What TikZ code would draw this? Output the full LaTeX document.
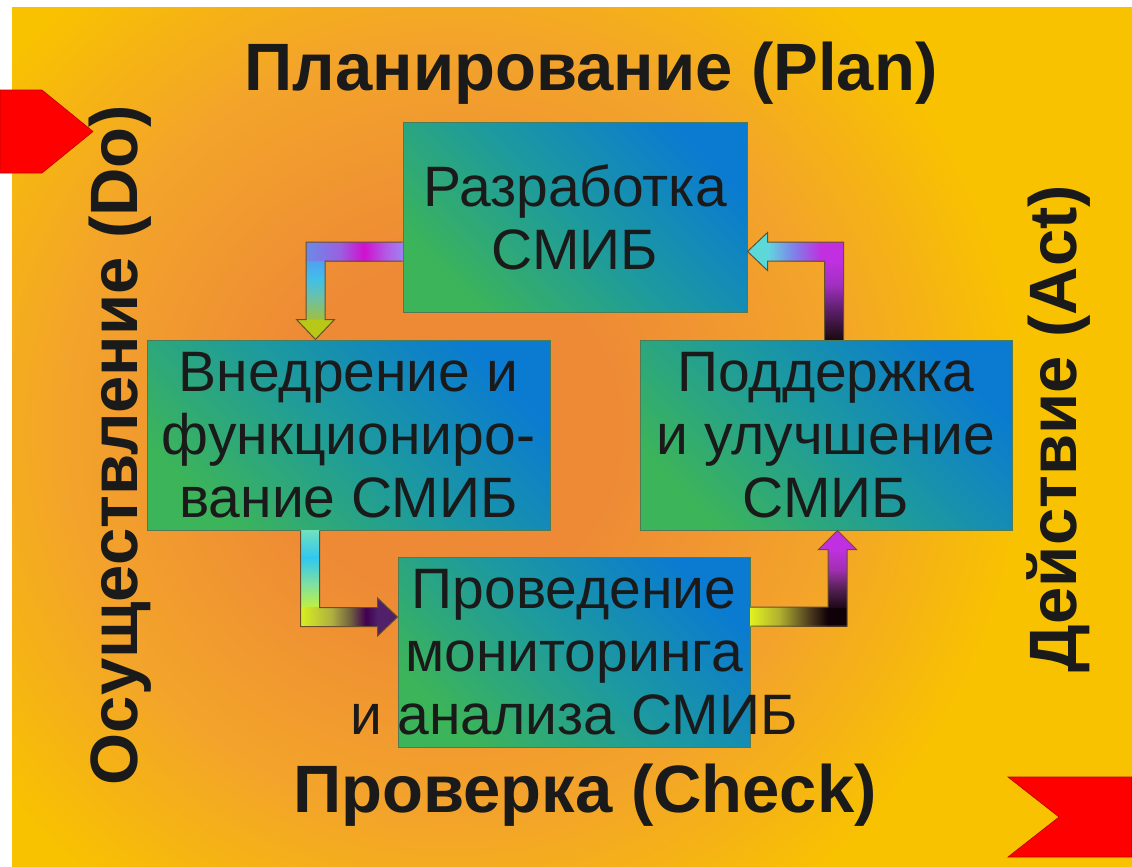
\documentclass[tikz,border=0pt]{standalone}
\usepackage{fontspec}
\setmainfont{Liberation Sans}
\usetikzlibrary{calc}

\definecolor{bgO}{HTML}{EE8A36}
\definecolor{bgM}{HTML}{F3A42A}
\definecolor{bgY}{HTML}{F8C200}
\definecolor{boxgreen}{HTML}{3CB45A}
\definecolor{boxmid}{HTML}{1D9A9E}
\definecolor{boxblue}{HTML}{0A7BD0}
\definecolor{boxline}{HTML}{4E7A55}
\definecolor{textc}{HTML}{1A1A1A}
\definecolor{arrline}{HTML}{6B4E2A}
\definecolor{redc}{HTML}{FF0000}
% arrow 1
\definecolor{aA}{HTML}{6A8AE8}
\definecolor{aB}{HTML}{9A60E0}
\definecolor{aC}{HTML}{D010D0}
\definecolor{aD}{HTML}{B060E8}
\definecolor{aE}{HTML}{A080F0}
\definecolor{aF}{HTML}{50A0F0}
\definecolor{aG}{HTML}{40C0E8}
\definecolor{aH}{HTML}{70C0A0}
\definecolor{aI}{HTML}{A0C040}
\definecolor{aJ}{HTML}{B8C818}
% arrow 2
\definecolor{bA}{HTML}{1A0A10}
\definecolor{bB}{HTML}{602070}
\definecolor{bC}{HTML}{A030C0}
\definecolor{bD}{HTML}{C030E0}
\definecolor{bE}{HTML}{60D8E0}
\definecolor{bF}{HTML}{8080E8}
\definecolor{bG}{HTML}{5CD8D8}
% arrow 3
\definecolor{cA}{HTML}{70E0C0}
\definecolor{cB}{HTML}{30C8F0}
\definecolor{cC}{HTML}{80E0A0}
\definecolor{cD}{HTML}{C0F040}
\definecolor{cE}{HTML}{D8F020}
\definecolor{cF}{HTML}{B0B040}
\definecolor{cG}{HTML}{706040}
\definecolor{cH}{HTML}{400050}
\definecolor{cI}{HTML}{50206A}
% arrow 4
\definecolor{dA}{HTML}{E0F020}
\definecolor{dB}{HTML}{B0B030}
\definecolor{dC}{HTML}{504020}
\definecolor{dD}{HTML}{100008}
\definecolor{dE}{HTML}{200818}
\definecolor{dF}{HTML}{502050}
\definecolor{dG}{HTML}{A030B0}
\definecolor{dH}{HTML}{C030E0}

% the inner 50bp of every shading is fitted to the path
\pgfdeclareradialshading{bgrad}{\pgfpoint{0bp}{0bp}}{color(0bp)=(bgO); color(5bp)=(bgO); color(11.5bp)=(bgM); color(17bp)=(bgY); color(50bp)=(bgY)}
\pgfdeclarehorizontalshading{aoneh}{100bp}{color(0bp)=(aA); color(25bp)=(aA); color(42.5bp)=(aB); color(55bp)=(aC); color(67.5bp)=(aD); color(75bp)=(aE); color(100bp)=(aE)}
\pgfdeclareverticalshading{aonev}{100bp}{color(0bp)=(aI); color(25bp)=(aI); color(42.5bp)=(aH); color(60bp)=(aG); color(75bp)=(aF); color(100bp)=(aF)}
\pgfdeclarehorizontalshading{atwoh}{100bp}{color(0bp)=(bE); color(25bp)=(bE); color(42.5bp)=(bF); color(60bp)=(bD); color(100bp)=(bD)}
\pgfdeclareverticalshading{atwov}{100bp}{color(0bp)=(bA); color(25bp)=(bA); color(45bp)=(bB); color(60bp)=(bC); color(75bp)=(bD); color(100bp)=(bD)}
\pgfdeclareverticalshading{athreev}{100bp}{color(0bp)=(cD); color(25bp)=(cD); color(40bp)=(cC); color(57.5bp)=(cB); color(75bp)=(cA); color(100bp)=(cA)}
\pgfdeclarehorizontalshading{athreeh}{100bp}{color(0bp)=(cE); color(25bp)=(cE); color(45bp)=(cF); color(57.5bp)=(cG); color(67.5bp)=(cH); color(75bp)=(cI); color(100bp)=(cI)}
\pgfdeclarehorizontalshading{afourh}{100bp}{color(0bp)=(dA); color(25bp)=(dA); color(40bp)=(dB); color(55bp)=(dC); color(65bp)=(dD); color(100bp)=(dD)}
\pgfdeclareverticalshading{afourv}{100bp}{color(0bp)=(dE); color(25bp)=(dE); color(40bp)=(dF); color(57.5bp)=(dG); color(75bp)=(dH); color(100bp)=(dH)}

\tikzset{
  box/.style={draw=boxline, line width=1pt, top color=boxblue, bottom color=boxgreen,
    middle color=boxmid, shading angle=-45, inner sep=0pt},
  boxtext/.style={font=\fontsize{57}{63}\selectfont, align=center, text=textc, inner sep=0pt},
  title/.style={font=\bfseries\fontsize{67}{70}\selectfont, text=textc, inner sep=0pt},
  arrline/.style={draw=arrline, line width=1pt, line join=miter},
  redshape/.style={fill=redc, draw=red!75!black, line width=0.6pt}
}

\begin{document}
\begin{tikzpicture}[x=1pt, y=-1pt]
\useasboundingbox (0,0) rectangle (1132,867);
\fill[white] (0,0) rectangle (1132,867);
\begin{scope}
  \clip (12,8) rectangle (1132,867);
  \shade[shading=bgrad] (-400,-420) rectangle (1300,1280);
\end{scope}

% red markers
\draw[redshape] (0,90) -- (42,90) -- (93,131.5) -- (42,173) -- (0,173) -- cycle;
\draw[redshape] (1008,777) -- (1132,777) -- (1132,857) -- (1008,857) -- (1059,817) -- cycle;

% boxes
\node[box, minimum width=344, minimum height=190] (plan) at (575,217) {};
\node[box, minimum width=403, minimum height=190] (impl) at (348.5,435) {};
\node[box, minimum width=372, minimum height=190] (supp) at (826,435) {};
\node[box, minimum width=352, minimum height=190] (check) at (574,652) {};

\node[boxtext] (plantext) at (plan) {Разработка\\СМИБ};
\node[boxtext] (impltext) at (impl) {Внедрение и\\функциониро-\\вание СМИБ};
\node[boxtext] (supptext) at (supp) {Поддержка\\и улучшение\\СМИБ};
\node[boxtext] (checktext) at (check) {Проведение\\мониторинга\\и анализа СМИБ};

% titles
\node[title, anchor=base] (tplan) at (591,90) {Планирование (Plan)};
\node[title, anchor=base] (tcheck) at (585,812) {Проверка (Check)};
\node[title, rotate=90, anchor=base] (tdo) at (137,445) {Осуществление (Do)};
\node[title, rotate=90, anchor=base] (tact) at (1076,429) {Действие (Act)};

% arrow 1: plan -> impl
\coordinate (a1s) at (plan.west |- 0,251.5);
\coordinate (a1t) at (315.5,0 |- impl.north);
\coordinate (a1c) at (a1t |- a1s);
\shade[shading=aoneh] ($(a1c)+(-9.5,-9.5)$) rectangle ($(a1s)+(0,9.5)$);
\shade[shading=aonev] ($(a1c)+(-9.5,9.5)$) rectangle ($(a1t)+(9.5,-20)$);
\fill[aJ] ($(a1t)+(-19,-20)$) -- (a1t) -- ($(a1t)+(19,-20)$) -- cycle;
\draw[arrline] ($(a1s)+(0,-9.5)$) -- ($(a1c)+(-9.5,-9.5)$) -- ($(a1t)+(-9.5,-20)$)
  -- ($(a1t)+(-19,-20)$) -- (a1t) -- ($(a1t)+(19,-20)$) -- ($(a1t)+(9.5,-20)$)
  -- ($(a1c)+(9.5,9.5)$) -- ($(a1s)+(0,9.5)$);

% arrow 2: supp -> plan
\coordinate (a2s) at (834,0 |- supp.north);
\coordinate (a2t) at (plan.east |- 0,251.5);
\coordinate (a2c) at (a2s |- a2t);
\shade[shading=atwoh] ($(a2t)+(20,-9.5)$) rectangle ($(a2c)+(9.5,9.5)$);
\shade[shading=atwov] ($(a2c)+(-9.5,9.5)$) rectangle ($(a2s)+(9.5,0)$);
\fill[bG] ($(a2t)+(20,-19)$) -- (a2t) -- ($(a2t)+(20,19)$) -- cycle;
\draw[arrline] ($(a2s)+(-9.5,0)$) -- ($(a2c)+(-9.5,9.5)$) -- ($(a2t)+(20,9.5)$)
  -- ($(a2t)+(20,19)$) -- (a2t) -- ($(a2t)+(20,-19)$) -- ($(a2t)+(20,-9.5)$)
  -- ($(a2c)+(9.5,-9.5)$) -- ($(a2s)+(9.5,0)$);

% arrow 3: impl -> check
\coordinate (a3s) at (310,0 |- impl.south);
\coordinate (a3t) at (check.west |- 0,617);
\coordinate (a3c) at (a3s |- a3t);
\shade[shading=athreev] ($(a3s)+(-9.5,0)$) rectangle ($(a3c)+(9.5,-9.5)$);
\shade[shading=athreeh] ($(a3c)+(-9.5,-9.5)$) rectangle ($(a3t)+(-20,9.5)$);
\fill[cI] ($(a3t)+(-20,-19)$) -- (a3t) -- ($(a3t)+(-20,19)$) -- cycle;
\draw[arrline] ($(a3s)+(-9.5,0)$) -- ($(a3c)+(-9.5,9.5)$) -- ($(a3t)+(-20,9.5)$)
  -- ($(a3t)+(-20,19)$) -- (a3t) -- ($(a3t)+(-20,-19)$) -- ($(a3t)+(-20,-9.5)$)
  -- ($(a3c)+(9.5,-9.5)$) -- ($(a3s)+(9.5,0)$);

% arrow 4: check -> supp
\coordinate (a4s) at (check.east |- 0,616.5);
\coordinate (a4t) at (837.5,0 |- supp.south);
\coordinate (a4c) at (a4t |- a4s);
\shade[shading=afourh] ($(a4s)+(0,-9.5)$) rectangle ($(a4c)+(9.5,9.5)$);
\shade[shading=afourv] ($(a4c)+(-9.5,-9.5)$) rectangle ($(a4t)+(9.5,19)$);
\fill[dH] ($(a4t)+(-19,19)$) -- (a4t) -- ($(a4t)+(19,19)$) -- cycle;
\draw[arrline] ($(a4s)+(0,-9.5)$) -- ($(a4c)+(-9.5,-9.5)$) -- ($(a4t)+(-9.5,19)$)
  -- ($(a4t)+(-19,19)$) -- (a4t) -- ($(a4t)+(19,19)$) -- ($(a4t)+(9.5,19)$)
  -- ($(a4c)+(9.5,9.5)$) -- ($(a4s)+(0,9.5)$);
\end{tikzpicture}
\end{document}
